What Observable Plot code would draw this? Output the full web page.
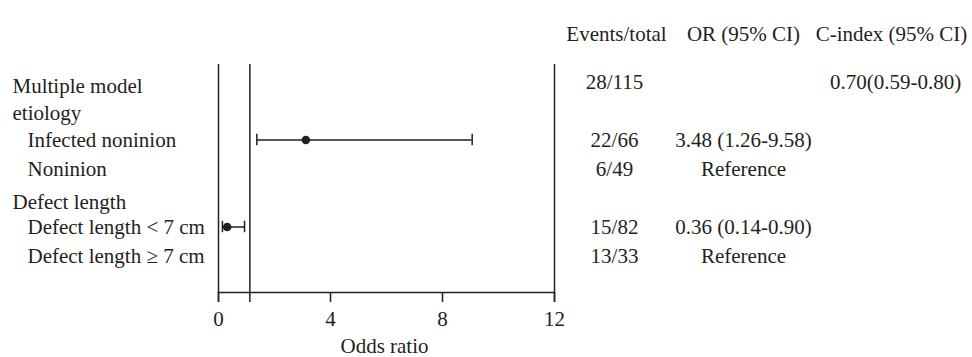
<!DOCTYPE html>
<html><head><meta charset="utf-8">
<script src="https://cdn.jsdelivr.net/npm/d3@7"></script>
<script src="https://cdn.jsdelivr.net/npm/@observablehq/plot@0.6"></script>
<style>html,body{margin:0;padding:0;background:#fff}</style>
</head><body><div id="chart"></div>
<script>
// ---- data ----
const rowLabels = ["Multiple model\netiology", "Infected noninion", "Noninion", "Defect length", "Defect length < 7 cm", "Defect length \u2265 7 cm"];
const isSubgroup = [false, true, true, false, true, true];
const eventsTotal = ["28/115", "22/66", "6/49", "", "15/82", "13/33"];
const orLabels = ["", "3.48 (1.26-9.58)", "Reference", "", "0.36 (0.14-0.90)", "Reference"];
const cIndexLabels = ["0.70(0.59-0.80)", "", "", "", "", ""];
const orPoint = [null, 3.12, null, null, 0.31, null];
const orLower = [null, 1.37, null, null, 0.14, null];
const orUpper = [null, 9.06, null, null, 0.93, null];
const referenceOR = 1.12;
const xTicks = [0, 4, 8, 12];
const columnHeaders = ["Events/total", "OR (95% CI)", "C-index (95% CI)"];
const axisLabel = "Odds ratio";

// ---- table ----
const rows = rowLabels.map((label, i) => ({
  label, sub: isSubgroup[i], events: eventsTotal[i], or: orLabels[i], cidx: cIndexLabels[i],
  est: orPoint[i], lo: orLower[i], hi: orUpper[i]
}));
const ci = rows.filter(d => d.est != null);
// layout slots: the first label wraps onto a second line
const slots = [rowLabels[0], "\u200b", ...rowLabels.slice(1)];

const ink = "#231f20";
const fs = 21;
const colDx = [61, 189, 339];

const chart = Plot.plot({
  width: 972, height: 357,
  marginTop: 64, marginBottom: 65, marginLeft: 218, marginRight: 418,
  style: {fontFamily: "'Liberation Serif', 'Times New Roman', serif", fontSize: "21px", color: ink, background: "#fff", overflow: "visible"},
  x: {domain: [0, 12]},
  y: {type: "band", domain: slots, range: [66.8, 269.8], padding: 0, axis: null},
  marks: [
    Plot.ruleX([0, referenceOR, 12], {stroke: ink, strokeWidth: 1.5, insetBottom: -10}),
    Plot.frame({anchor: "bottom", stroke: ink, strokeWidth: 1.5}),
    Plot.axisX(xTicks, {tickSize: 10, tickPadding: 9, fontSize: fs, stroke: ink, strokeWidth: 1.5, label: null}),
    Plot.ruleY(ci, {y: "label", x1: "lo", x2: "hi", stroke: ink, strokeWidth: 1.5}),
    Plot.tickX(ci, {y: "label", x: "lo", insetTop: 8.8, insetBottom: 8.8, stroke: ink, strokeWidth: 1.5}),
    Plot.tickX(ci, {y: "label", x: "hi", insetTop: 8.8, insetBottom: 8.8, stroke: ink, strokeWidth: 1.5}),
    Plot.dot(ci, {y: "label", x: "est", r: 4.3, fill: ink, stroke: null}),
    // left labels
    Plot.text(rows.filter(d => !d.sub), {y: "label", text: "label", frameAnchor: "left", textAnchor: "start", dx: -206, dy: -8.2, lineAnchor: "top", lineHeight: 1.286, fontSize: fs, fill: ink}),
    Plot.text(rows.filter(d => d.sub), {y: "label", text: "label", frameAnchor: "left", textAnchor: "start", dx: -191, dy: -8.2, lineAnchor: "top", fontSize: fs, fill: ink}),
    // columns
    Plot.text(rows, {y: "label", text: "events", frameAnchor: "right", textAnchor: "middle", dx: colDx[0] - 1, fontSize: fs, fill: ink}),
    Plot.text(rows, {y: "label", text: "or", frameAnchor: "right", textAnchor: "middle", dx: colDx[1], fontSize: fs, fill: ink}),
    Plot.text(rows, {y: "label", text: "cidx", frameAnchor: "right", textAnchor: "middle", dx: colDx[2] + 2, fontSize: fs, fill: ink}),
    // headers
    Plot.text([columnHeaders[0]], {text: d => d, frameAnchor: "top-right", textAnchor: "middle", dx: colDx[0] + 1, dy: -38.7, fontSize: fs, fill: ink}),
    Plot.text([columnHeaders[1]], {text: d => d, frameAnchor: "top-right", textAnchor: "middle", dx: colDx[1], dy: -38.7, fontSize: fs, fill: ink}),
    Plot.text([columnHeaders[2]], {text: d => d, frameAnchor: "top-right", textAnchor: "middle", dx: colDx[2] - 2, dy: -38.7, fontSize: fs, fill: ink}),
    // axis label
    Plot.text([axisLabel], {text: d => d, frameAnchor: "bottom", textAnchor: "middle", dx: -2, dy: 60, fontSize: fs, fill: ink})
  ]
});
document.getElementById("chart").appendChild(chart);
</script>
</body></html>
